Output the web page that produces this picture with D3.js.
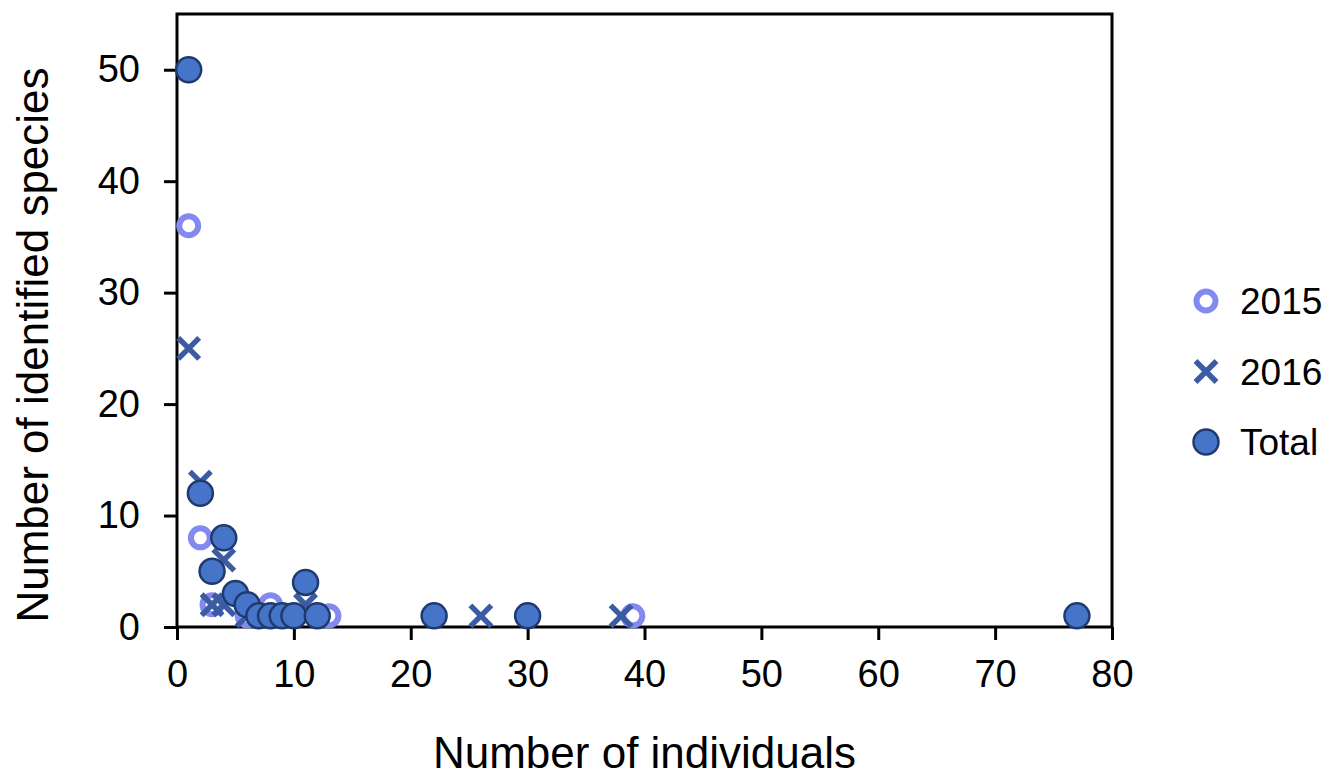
<!DOCTYPE html>
<html>
<head>
<meta charset="utf-8">
<script src="https://cdn.jsdelivr.net/npm/d3@7"></script>
<style>
  body { margin: 0; background: #fff; }
  text { font-family: "Liberation Sans", Arial, sans-serif; fill: #000; }
</style>
</head>
<body>
<div id="chart"></div>
<script>
// data: [individuals, species]
const series2015 = [[1, 36], [2, 8], [3, 2], [6, 1], [8, 2], [13, 1], [39, 1]];
const series2016 = [[1, 25], [2, 13], [3, 2], [4, 6], [4, 2], [6, 1], [11, 2], [26, 1], [38, 1]];
const seriesTotal = [[1, 50], [2, 12], [3, 5], [4, 8], [5, 3], [6, 2], [7, 1], [8, 1], [9, 1], [10, 1],
  [11, 4], [12, 1], [22, 1], [30, 1], [77, 1]];
const xTicks = [0, 10, 20, 30, 40, 50, 60, 70, 80];
const yTicks = [0, 10, 20, 30, 40, 50];
const legendNames = ["2015", "2016", "Total"];

const W = 1334, H = 779;
const margin = { left: 177, right: 222, top: 14, bottom: 152 };
const width = W - margin.left - margin.right;
const height = H - margin.top - margin.bottom;

const svg = d3.select("#chart").append("svg")
  .attr("width", W).attr("height", H);
const g = svg.append("g")
  .attr("transform", "translate(" + margin.left + "," + margin.top + ")");

const x = d3.scaleLinear().domain([0, 80]).range([0, width]);
const y = d3.scaleLinear().domain([0, 55]).range([height, 0]);

// axes
const xAxis = g.append("g")
  .attr("transform", "translate(0," + height + ")")
  .call(d3.axisBottom(x).tickValues(xTicks).tickSize(13).tickPadding(20));
const yAxis = g.append("g")
  .call(d3.axisLeft(y).tickValues(yTicks).tickSize(13).tickPadding(24));
[xAxis, yAxis].forEach(a => {
  a.select(".domain").remove();
  a.selectAll("line").attr("stroke", "#000").attr("stroke-width", 3);
  a.selectAll("text").style("font-size", "38px")
    .style("font-family", "'Liberation Sans', Arial, sans-serif");
});

// frame
g.append("rect")
  .attr("width", width).attr("height", height)
  .attr("fill", "none").attr("stroke", "#000").attr("stroke-width", 3);

const ringColor = "#8289ef";
const crossColor = "#3b5ba3";
const fillColor = "#4674c8";
const edgeColor = "#1f3a6e";

function ring(sel) {
  sel.attr("r", 9.5).attr("fill", "none").attr("stroke", ringColor).attr("stroke-width", 6);
}
function cross(sel) {
  sel.attr("d", "M-10.5,-10.5L10.5,10.5M-10.5,10.5L10.5,-10.5")
    .attr("fill", "none").attr("stroke", crossColor).attr("stroke-width", 5.5);
}
function dot(sel) {
  sel.attr("r", 12.5).attr("fill", fillColor).attr("stroke", edgeColor).attr("stroke-width", 2.5);
}

g.append("g").selectAll("circle").data(series2015).enter().append("circle")
  .attr("cx", d => x(d[0])).attr("cy", d => y(d[1])).call(ring);
g.append("g").selectAll("path").data(series2016).enter().append("path")
  .attr("transform", d => "translate(" + x(d[0]) + "," + y(d[1]) + ")").call(cross);
g.append("g").selectAll("circle").data(seriesTotal).enter().append("circle")
  .attr("cx", d => x(d[0])).attr("cy", d => y(d[1])).call(dot);

// axis titles
svg.append("text")
  .attr("x", margin.left + width / 2).attr("y", 768)
  .attr("text-anchor", "middle").style("font-size", "44px")
  .text("Number of individuals");
svg.append("text")
  .attr("transform", "translate(48,345) rotate(-90)")
  .attr("text-anchor", "middle").style("font-size", "44px")
  .text("Number of identified species");

// legend
const legend = svg.append("g").attr("transform", "translate(1206,301)");
const items = legend.selectAll("g").data(legendNames).enter().append("g")
  .attr("transform", (d, i) => "translate(0," + i * 70.5 + ")");
items.filter((d, i) => i === 0).append("circle").call(ring);
items.filter((d, i) => i === 1).append("path").call(cross);
items.filter((d, i) => i === 2).append("circle").call(dot);
items.append("text").attr("x", 34).attr("y", 13).style("font-size", "37px").text(d => d);
</script>
</body>
</html>
